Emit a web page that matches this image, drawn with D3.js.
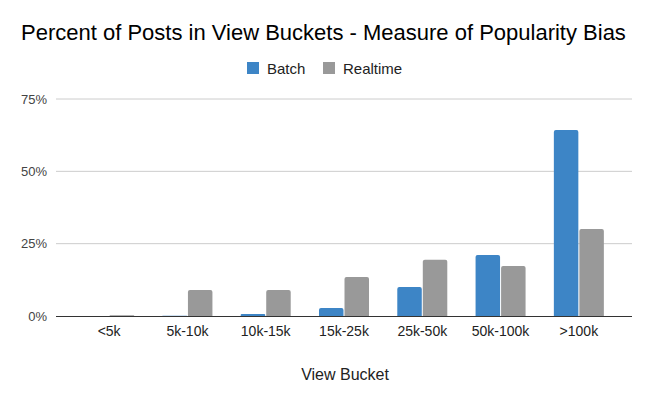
<!DOCTYPE html>
<html>
<head>
<meta charset="utf-8">
<script src="https://cdn.jsdelivr.net/npm/d3@7"></script>
<style>
  body { margin: 0; background: #fff; }
  text { font-family: Arial, "Liberation Sans", sans-serif; }
</style>
</head>
<body>
<div id="chart"></div>
<script>
// chart data
var categories = ["<5k", "5k-10k", "10k-15k", "15k-25k", "25k-50k", "50k-100k", ">100k"];
var batch = [0, 0.1, 0.7, 2.8, 10.0, 21.1, 64.3];
var realtime = [0.3, 9.0, 9.0, 13.5, 19.4, 17.3, 30.1];
var series_names = ["Batch", "Realtime"];
var y_ticks = [0, 25, 50, 75];

var colors = { Batch: "#3d85c6", Realtime: "#999999" };
var width = 652, height = 403;
var plot = { left: 56, right: 632, top: 99, bottom: 316 };

var svg = d3.select("#chart").append("svg")
            .attr("width", width)
            .attr("height", height);

var rows = categories.map(function (c, i) {
    return { cat: c, Batch: batch[i], Realtime: realtime[i] };
});

var x = d3.scaleBand()
          .domain(categories)
          .range([70, 618]);
var x_inner = d3.scaleBand()
                .domain(series_names)
                .range([0, 50])
                .paddingInner(0.04);
var y = d3.scaleLinear()
          .domain([0, 75])
          .range([plot.bottom, plot.top]);

// gridlines
svg.append("g")
   .selectAll("line")
   .data(y_ticks.filter(function (t) { return t > 0; }))
   .enter()
   .append("line")
   .attr("x1", plot.left)
   .attr("x2", plot.right)
   .attr("y1", function (d) { return y(d); })
   .attr("y2", function (d) { return y(d); })
   .attr("stroke", "#cccccc")
   .attr("stroke-width", 1);

// y axis labels
var y_axis = svg.append("g")
                .attr("transform", "translate(" + (plot.left - 9) + ",0)")
                .call(d3.axisLeft(y).tickValues(y_ticks).tickSize(0)
                        .tickFormat(function (d) { return d + "%"; }));
y_axis.select(".domain").remove();
y_axis.selectAll("text")
      .attr("x", 0)
      .attr("fill", "#444444")
      .style("font-size", "13px")
      .style("font-family", "Arial, 'Liberation Sans', sans-serif");

// bars
var groups = svg.append("g")
                .selectAll("g")
                .data(rows)
                .enter()
                .append("g")
                .attr("transform", function (d) {
                    return "translate(" + (x(d.cat) + x.bandwidth() / 2 - 25) + ",0)";
                });

groups.selectAll("path")
      .data(function (d) {
          return series_names.map(function (s) { return { key: s, value: d[s] }; });
      })
      .enter()
      .append("path")
      .attr("fill", function (d) { return colors[d.key]; })
      .attr("d", function (d) {
          var x0 = x_inner(d.key), w = x_inner.bandwidth();
          var y0 = y(d.value), h = plot.bottom - y0;
          var r = Math.min(2, h / 2, w / 2);
          if (h <= 0) return "";
          return "M" + x0 + "," + plot.bottom +
                 "V" + (y0 + r) +
                 "Q" + x0 + "," + y0 + " " + (x0 + r) + "," + y0 +
                 "H" + (x0 + w - r) +
                 "Q" + (x0 + w) + "," + y0 + " " + (x0 + w) + "," + (y0 + r) +
                 "V" + plot.bottom + "Z";
      });

// x axis
var x_axis = svg.append("g")
                .attr("transform", "translate(0," + plot.bottom + ")")
                .call(d3.axisBottom(x).tickSize(0).tickPadding(10));
x_axis.select(".domain").remove();
x_axis.selectAll("text")
      .attr("fill", "#222222")
      .style("font-size", "14px")
      .style("font-family", "Arial, 'Liberation Sans', sans-serif");

svg.append("line")
   .attr("x1", plot.left)
   .attr("x2", plot.right)
   .attr("y1", plot.bottom + 0.5)
   .attr("y2", plot.bottom + 0.5)
   .attr("stroke", "#333333")
   .attr("stroke-width", 1);

// title
svg.append("text")
   .attr("x", 21)
   .attr("y", 40)
   .attr("fill", "#000000")
   .style("font-size", "22px")
   .text("Percent of Posts in View Buckets - Measure of Popularity Bias");

// axis title
svg.append("text")
   .attr("x", 345)
   .attr("y", 380)
   .attr("text-anchor", "middle")
   .attr("fill", "#222222")
   .style("font-size", "16px")
   .text("View Bucket");

// legend
var legend_x = [247, 323];
var legend = svg.append("g")
                .selectAll("g")
                .data(series_names)
                .enter()
                .append("g")
                .attr("transform", function (d, i) {
                    return "translate(" + legend_x[i] + ",62)";
                });
legend.append("rect")
      .attr("width", 12)
      .attr("height", 12)
      .attr("fill", function (d) { return colors[d]; });
legend.append("text")
      .attr("x", 20)
      .attr("y", 12)
      .attr("fill", "#222222")
      .style("font-size", "15px")
      .text(function (d) { return d; });
</script>
</body>
</html>
